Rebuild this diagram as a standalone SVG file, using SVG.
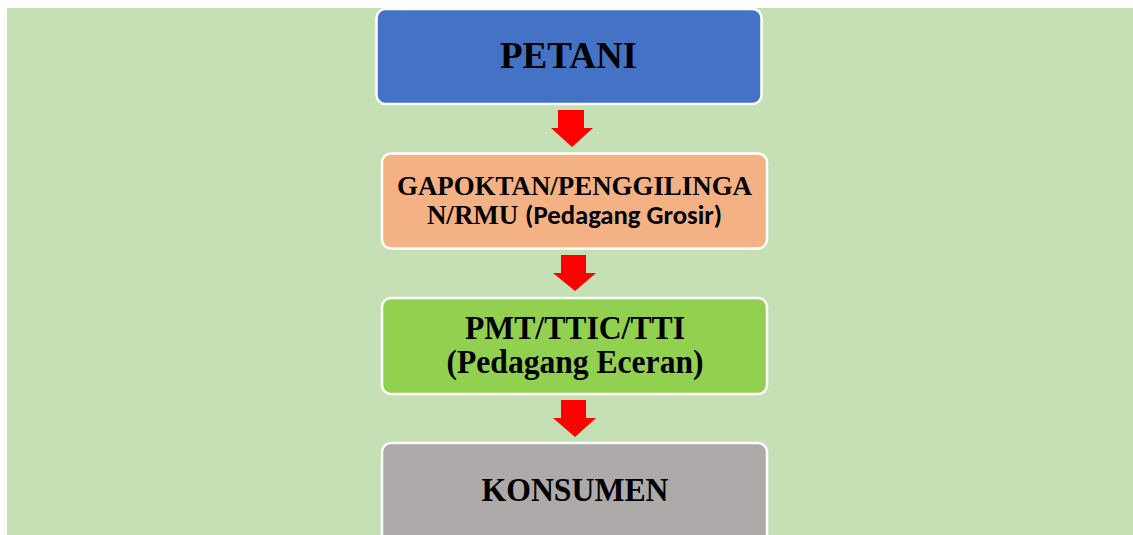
<svg xmlns="http://www.w3.org/2000/svg" width="1133" height="535" viewBox="0 0 1133 535">
<style>
.box{stroke:#FFFFFF;stroke-width:2.5}
.t{font-family:"Liberation Serif","Times New Roman",serif;font-weight:bold;fill:#000000;text-anchor:middle}
.c{font-family:Carlito,Lato,"Open Sans",sans-serif;font-weight:bold}
.arrow{fill:#FF0000}
</style>
<rect x="0" y="0" width="1133" height="535" fill="#FFFFFF"/>
<rect x="7" y="8" width="1126" height="527" fill="#C5E0B4"/>
<g id="petani">
<rect class="box" x="376.5" y="9" width="385" height="95" rx="9" fill="#4472C4"/>
<text class="t" x="568.5" y="68" font-size="37" textLength="137" lengthAdjust="spacingAndGlyphs">PETANI</text>
</g>
<g id="gapoktan">
<rect class="box" x="382" y="153.5" width="385" height="95" rx="9" fill="#F4B183"/>
<text class="t" font-size="27"><tspan x="574.5" y="195" textLength="355" lengthAdjust="spacingAndGlyphs">GAPOKTAN/PENGGILINGA</tspan><tspan x="574.5" y="223.5">N/RMU <tspan class="c" textLength="197" lengthAdjust="spacingAndGlyphs">(Pedagang Grosir)</tspan></tspan></text>
</g>
<g id="pmt">
<rect class="box" x="382" y="298" width="385" height="96" rx="9" fill="#92D050"/>
<text class="t" x="575" y="339" font-size="33" textLength="220" lengthAdjust="spacingAndGlyphs">PMT/TTIC/TTI</text>
<text class="t" x="575" y="373" font-size="33" textLength="257" lengthAdjust="spacingAndGlyphs">(Pedagang Eceran)</text>
</g>
<g id="konsumen">
<rect class="box" x="382" y="443" width="385" height="110" rx="9" fill="#AEAAAA"/>
<text class="t" x="575" y="501" font-size="33" textLength="187" lengthAdjust="spacingAndGlyphs">KONSUMEN</text>
</g>
<g id="connectors">
<polygon class="arrow" points="558,110 584,110 584,128 593,128 572,147 551,128 558,128"/>
<polygon class="arrow" points="561,255 586,255 586,273 596,273 575,291 553,273 561,273"/>
<polygon class="arrow" points="561,400 586,400 586,418 596,418 575,437 553,418 561,418"/>
</g>
</svg>
